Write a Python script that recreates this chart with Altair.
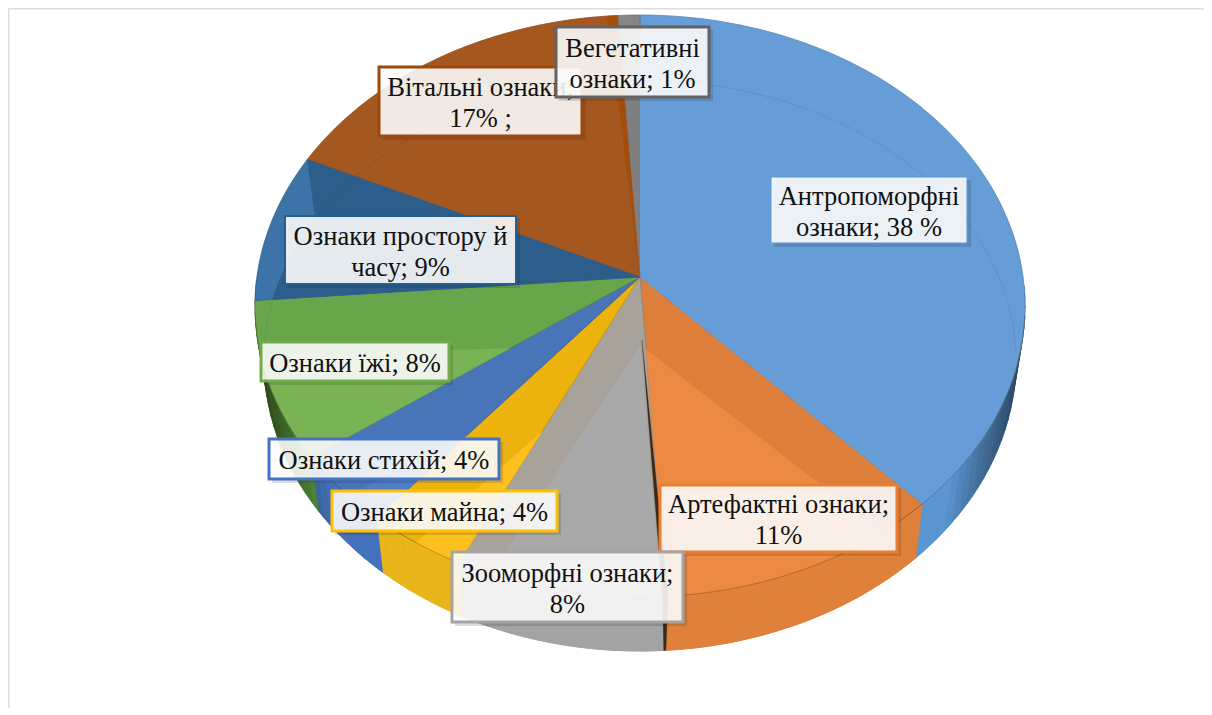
import math
import altair as alt
import pandas as pd

alt.data_transformers.disable_max_rows()

# ---- values ----
categories = ["Антропоморфні ознаки", "Артефактні ознаки", "Зооморфні ознаки", "Ознаки майна",
              "Ознаки стихій", "Ознаки їжі", "Ознаки простору й часу", "Вітальні ознаки", "Вегетативні ознаки"]
label_values = [38, 11, 8, 4, 4, 8, 9, 17, 1]
drawn_shares = [36.9, 12.0, 8.9, 4.2, 4.3, 9.0, 8.1, 15.7, 0.9]
label_lines = [["Антропоморфні", "ознаки; 38 %"], ["Артефактні ознаки;", "11%"], ["Зооморфні ознаки;", "8%"],
               ["Ознаки майна; 4%"], ["Ознаки стихій; 4%"], ["Ознаки їжі; 8%"],
               ["Ознаки простору й", "часу; 9%"], ["Вітальні ознаки;", "17% ;"], ["Вегетативні", "ознаки; 1%"]]

# ---- styles ----
top_colors = ["#669DD6", "#DD7E3B", "#A7A39A", "#ECB30F", "#4775B8", "#69A64B", "#3C74A7", "#A4581F", "#858585"]
overlap_colors = ["#669DD6", "#EC8A44", "#A9A9A9", "#FDC01E", "#4F7CC9", "#79B356", "#2D5E8B", "#A4581F", "#7F7F7F"]
side_colors = ["#5B96D2", "#DF813A", "#A3A3A3", "#E8B51B", "#4472BD", "#5E9A3F", "#2F6191", "#9A4F1A", "#6F6F6F"]
border_colors = ["#5B9BD5", "#ED7D31", "#A5A5A5", "#FFC000", "#4472C4", "#70AD47", "#255E91", "#9E480E", "#636363"]
border_widths = [1, 3, 3, 3, 3, 3, 2, 3, 3]
# label boxes: left, right, top, bottom in picture pixels; painted in this order
boxes = {0: (771, 967, 177, 243), 1: (660, 897, 485, 552), 2: (452, 683, 552, 622), 3: (332, 557, 491, 531),
         4: (269, 499, 439, 479), 5: (261, 449, 342, 381), 6: (285, 516, 216, 284), 7: (379, 582, 67, 136),
         8: (556, 709, 27, 97)}
paint_order = [0, 1, 5, 4, 3, 2, 6, 7, 8]

# ---- projection of the tilted pie ----
APEX = (640, 277)
APEX_LOW = (640, 345)

def top_pt(t):
    a = math.radians(t)
    return (640 + 385 * math.sin(a), 306 - 291 * math.cos(a))

def low_pt(t):
    a = math.radians(t)
    ry = 280 if math.cos(a) > 0 else 291
    return (640 + 376 * math.sin(a), 360 - ry * math.cos(a))

def arc(fn, a, b, step=1.5):
    n = max(2, int(abs(b - a) / step) + 1)
    return [fn(a + (b - a) * i / n) for i in range(n + 1)]

def clip(subject, clipper):
    area = sum(clipper[i][0] * clipper[(i + 1) % len(clipper)][1] - clipper[(i + 1) % len(clipper)][0] * clipper[i][1]
               for i in range(len(clipper)))
    s = 1 if area > 0 else -1
    out = subject
    for i in range(len(clipper)):
        A, B = clipper[i], clipper[(i + 1) % len(clipper)]
        if abs(A[0] - B[0]) + abs(A[1] - B[1]) < 1e-9:
            continue
        inside = lambda p: s * ((B[0] - A[0]) * (p[1] - A[1]) - (B[1] - A[1]) * (p[0] - A[0])) >= -1e-9
        res = []
        for j in range(len(out)):
            P, Q = out[j], out[(j + 1) % len(out)]
            ip, iq = inside(P), inside(Q)
            if ip:
                res.append(P)
            if ip != iq:
                dx, dy = Q[0] - P[0], Q[1] - P[1]
                d = (B[0] - A[0]) * dy - (B[1] - A[1]) * dx
                u = -((B[0] - A[0]) * (P[1] - A[1]) - (B[1] - A[1]) * (P[0] - A[0])) / d if d else 0
                res.append((P[0] + u * dx, P[1] + u * dy))
        out = res
        if not out:
            break
    return out

def mix(c, f):
    v = [int(c[i:i + 2], 16) for i in (1, 3, 5)]
    return "#" + "".join(f"{int(x * f):02x}" for x in v)

bounds = [0]
for s in drawn_shares:
    bounds.append(bounds[-1] + s * 3.6)

def rows(polys):
    out = []
    for gid, (pts, fill, edge) in enumerate(polys):
        for k, (px, py) in enumerate(list(pts) + [pts[0]]):
            out.append({"px": round(px, 1), "py": round(py, 1), "g": gid, "k": k, "fill": fill, "edge": edge})
    return pd.DataFrame(out)

xs = alt.Scale(domain=[8, 1204], nice=False, zero=False)
ys = alt.Scale(domain=[708, 8], nice=False, zero=False)
X = alt.X("px:Q", scale=xs, axis=None)
Y = alt.Y("py:Q", scale=ys, axis=None)

def poly_layer(polys, width=1.0):
    return alt.Chart(rows(polys)).mark_line(strokeWidth=width, strokeJoin="round").encode(
        x=X, y=Y, detail="g:N", order="k:Q",
        fill=alt.Fill("fill:N", scale=None), stroke=alt.Stroke("edge:N", scale=None))

def line_layer(pts, color, opacity, width=1.0):
    df = pd.DataFrame({"px": [p[0] for p in pts], "py": [p[1] for p in pts], "k": list(range(len(pts)))})
    return alt.Chart(df).mark_line(color=color, opacity=opacity, strokeWidth=width).encode(x=X, y=Y, order="k:Q")

base, quads, tops, overlaps, walls = [], [], [], [], []
for i in range(len(drawn_shares)):
    a, b = bounds[i], bounds[i + 1]
    top_poly = [APEX] + arc(top_pt, a, b)
    low_poly = [APEX_LOW] + arc(low_pt, a, b)
    base.append((low_poly, side_colors[i], side_colors[i]))
    t = a
    while t < b:
        e = min(b, t + 2.0)
        if 86 <= t <= 274:
            g = max(0.0, (abs(math.sin(math.radians((t + e) / 2))) - 0.8) / 0.2) * 0.55
            c = mix(side_colors[i], 1 - g)
            quads.append(([top_pt(t), top_pt(e), low_pt(e), low_pt(t)], c, c))
        t = e
    tops.append((top_poly, top_colors[i], mix(top_colors[i], 0.86)))
    ov = clip(low_poly, top_poly)
    if len(ov) > 2:
        overlaps.append((ov, overlap_colors[i], overlap_colors[i]))
    if i == 6:
        w = clip([APEX, top_pt(b), low_pt(b), APEX_LOW], top_poly)
        if len(w) > 2:
            walls.append((w, overlap_colors[i], overlap_colors[i]))

# thin dark interior walls seen between slices
b2 = bounds[2]
slivers = [([(642, 340), top_pt(b2 - 0.2), low_pt(b2), low_pt(b2 + 0.35), top_pt(b2 + 0.6)], "#3F2712", "#3F2712"),
           ([APEX, top_pt(bounds[8] - 1.6), top_pt(bounds[8] - 0.2)], "#A54E0C", "#A54E0C")]

frame_h = pd.DataFrame({"px": [8.5, 1204], "py": [8.5, 8.5], "k": [0, 1]})
frame_v = pd.DataFrame({"px": [8.5, 8.5], "py": [8.5, 708], "k": [0, 1]})

layers = [
    poly_layer(base), poly_layer(quads, 0.6), poly_layer(tops, 0.8), poly_layer(overlaps, 0.3), poly_layer(walls, 0.3),
    poly_layer(slivers, 0.3),
    line_layer(arc(low_pt, -88, 88), "#123", 0.09),
    line_layer(arc(top_pt, 92, 268), "#5a2a00", 0.28),
    alt.Chart(frame_h).mark_line(color="#DEDEDE", strokeWidth=2).encode(x=X, y=Y, order="k:Q"),
    alt.Chart(frame_v).mark_line(color="#DEDEDE", strokeWidth=2).encode(x=X, y=Y, order="k:Q"),
]

X2 = alt.X2("x2:Q")
Y2 = alt.Y2("y2:Q")
for i in paint_order:
    l, r, t, b = boxes[i]
    sh = pd.DataFrame([{"x1": l + 3, "x2": r + 4, "y1": t + 3, "y2": b + 4}])
    layers.append(alt.Chart(sh).mark_rect(color="#222", opacity=0.16).encode(
        x=alt.X("x1:Q", scale=xs, axis=None), x2=X2, y=alt.Y("y1:Q", scale=ys, axis=None), y2=Y2))
    bx = pd.DataFrame([{"x1": l, "x2": r, "y1": t, "y2": b}])
    layers.append(alt.Chart(bx).mark_rect(fill="#FFFFFF", fillOpacity=0.88, stroke=border_colors[i],
                                         strokeWidth=border_widths[i]).encode(
        x=alt.X("x1:Q", scale=xs, axis=None), x2=X2, y=alt.Y("y1:Q", scale=ys, axis=None), y2=Y2))
    lines = label_lines[i]
    mid = (t + b) / 2 + 2
    ty = [mid] if len(lines) == 1 else [mid - 15.5, mid + 15.5]
    tx = pd.DataFrame({"px": [(l + r) / 2] * len(lines), "py": ty, "t": lines})
    layers.append(alt.Chart(tx).mark_text(font="Liberation Serif", fontSize=26.5, color="#111111",
                                          baseline="middle", align="center").encode(x=X, y=Y, text="t:N"))

chart = alt.layer(*layers).properties(width=1196, height=700, padding=0, autosize="none").configure_view(stroke=None)
chart.save("out.html", embed_options={"renderer": "svg", "actions": False})
